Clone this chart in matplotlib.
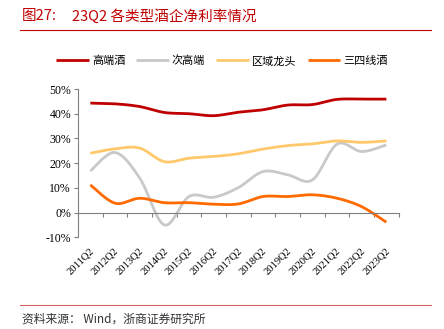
import numpy as np
import matplotlib
matplotlib.use("Agg")
import matplotlib.pyplot as plt
from matplotlib.transforms import blended_transform_factory

plt.rcParams['font.family'] = ['Noto Sans CJK SC', 'DejaVu Sans']

quarters = ["2011Q2", "2012Q2", "2013Q2", "2014Q2", "2015Q2", "2016Q2", "2017Q2",
            "2018Q2", "2019Q2", "2020Q2", "2021Q2", "2022Q2", "2023Q2"]
high_end = [44.3, 44.0, 42.9, 40.5, 40.0, 39.2, 40.6, 41.6, 43.5, 43.7, 45.8, 45.9, 45.9]
sub_high = [16.8, 24.3, 14.0, -5.0, 6.5, 6.2, 10.1, 16.6, 15.3, 13.2, 27.7, 24.7, 27.4]
regional = [24.0, 25.8, 26.1, 20.6, 22.0, 22.7, 23.8, 25.7, 27.1, 27.8, 29.0, 28.4, 29.0]
lower_tier = [11.2, 3.8, 5.8, 4.0, 4.0, 3.4, 3.5, 6.5, 6.5, 7.2, 5.8, 2.4, -3.9]

series_names = ["高端酒", "次高端", "区域龙头", "三四线酒"]
series_colors = ["#c00000", "#c9c9c9", "#ffc96b", "#ff6a00"]
y_ticks = [-10, 0, 10, 20, 30, 40, 50]


def smooth(xs, ys, n=20):
    # bezier smoothing like office charts
    p = np.column_stack([xs, ys]).astype(float)
    ext = np.vstack([p[0], p, p[-1]])
    out = []
    t = np.linspace(0, 1, n)[:, None]
    for i in range(len(p) - 1):
        p0, p3 = ext[i + 1], ext[i + 2]
        c1 = p0 + (ext[i + 2] - ext[i]) / 6
        c2 = p3 - (ext[i + 3] - ext[i + 1]) / 6
        seg = ((1 - t) ** 3) * p0 + 3 * ((1 - t) ** 2) * t * c1 + 3 * (1 - t) * t ** 2 * c2 + t ** 3 * p3
        out.append(seg if i == 0 else seg[1:])
    out = np.vstack(out)
    return out[:, 0], out[:, 1]


fig = plt.figure(figsize=(4.44, 3.29), dpi=100)
ax = fig.add_axes([78 / 444, 1 - 237.3 / 329, 320.7 / 444, 148.3 / 329])

x = np.arange(len(quarters))
lines = []
for vals, name, col in zip([high_end, sub_high, regional, lower_tier], series_names, series_colors):
    sx, sy = smooth(x, vals)
    ln, = ax.plot(sx, sy, color=col, lw=2.0, label=name, solid_capstyle='butt')
    lines.append(ln)

ax.set_xlim(-0.5, len(quarters) - 0.5)
ax.set_ylim(-10, 50)
ax.set_yticks(y_ticks)
ax.set_yticklabels([f"{v}%" for v in y_ticks], family='Liberation Serif', fontsize=8.5)
for s in ['top', 'right']:
    ax.spines[s].set_visible(False)
ax.spines['left'].set_color('#808080')
ax.spines['bottom'].set_color('#808080')
ax.spines['bottom'].set_position(('data', 0))
ax.tick_params(axis='y', length=3, color='#808080', pad=2)
ax.set_xticks(np.arange(-0.5, len(quarters)))
ax.tick_params(axis='x', length=3, color='#808080', labelbottom=False)

trans = blended_transform_factory(ax.transData, ax.transAxes)
for xi, q in zip(x, quarters):
    ax.text(xi - 0.05, -0.06, q, transform=trans, rotation=45, ha='right', va='top',
            rotation_mode='anchor', family='Liberation Serif', fontsize=7.6)

fig.legend(handles=lines, labels=series_names, loc='center', bbox_to_anchor=(0.5, 1 - 61 / 329),
           ncol=4, frameon=False, fontsize=8, handlelength=2.9, handletextpad=0.3,
           columnspacing=1.0)

fig.text(22 / 444, 1 - 16 / 329, "图27:", color='#c00000', fontsize=10.5, va='center')
fig.text(72 / 444, 1 - 16 / 329, "23Q2 各类型酒企净利率情况", color='#c00000', fontsize=10.5, va='center')
fig.add_artist(plt.Line2D([20 / 444, 431 / 444], [1 - 30 / 329] * 2, color='#c00000', lw=0.8))
fig.add_artist(plt.Line2D([20 / 444, 431 / 444], [1 - 305 / 329] * 2, color='#d96060', lw=0.8))
fig.text(22 / 444, 1 - 319 / 329, "资料来源： Wind，浙商证券研究所", color='#333333', fontsize=8.5, va='center')

fig.savefig("out.png", dpi=100)
